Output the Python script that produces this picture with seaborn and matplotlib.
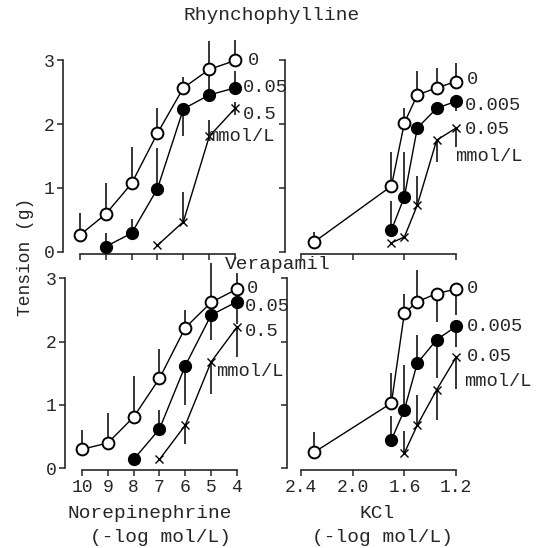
import matplotlib
matplotlib.use("Agg")
import matplotlib.pyplot as plt
import seaborn as sns

# doses (-log mol/L)
ne_dose = [10, 9, 8, 7, 6, 5, 4]
kcl_dose = [2.3, 1.7, 1.6, 1.5, 1.35, 1.2]

# Rhynchophylline, norepinephrine (tension in g, upper / lower error)
rh_ne_0 = [0.26, 0.59, 1.07, 1.86, 2.57, 2.86, 3.00]
rh_ne_0_up = [0.34, 0.48, 0.58, 0.39, 0.17, 0.45, 0.32]
rh_ne_0_lo = [0, 0, 0, 0, 0, 0, 0]
rh_ne_005 = [0.08, 0.29, 0.99, 2.24, 2.46, 2.57]
rh_ne_005_up = [0.21, 0.23, 0.63, 0, 0.34, 0.26]
rh_ne_005_lo = [0, 0, 0, 0.43, 0, 0]
rh_ne_05 = [0.10, 0.47, 1.81, 2.25]
rh_ne_05_up = [0, 0.47, 0.26, 0.10]
rh_ne_05_lo = [0, 0, 0, 0.10]

# Rhynchophylline, KCl
rh_k_0 = [0.15, 1.03, 2.02, 2.46, 2.57, 2.67]
rh_k_0_up = [0.16, 0.54, 0.23, 0.37, 0.31, 0.29]
rh_k_0_lo = [0, 0, 0, 0, 0, 0]
rh_k_0005 = [0.34, 0.86, 1.94, 2.25, 2.36]
rh_k_0005_up = [0.45, 0.71, 0, 0, 0]
rh_k_0005_lo = [0, 0, 0, 0, 0.15]
rh_k_005 = [0.14, 0.23, 0.73, 1.75, 1.94]
rh_k_005_up = [0, 0, 0.45, 0, 0]
rh_k_005_lo = [0, 0, 0, 0.34, 0.29]

# Verapamil, norepinephrine
ve_ne_0 = [0.30, 0.40, 0.81, 1.42, 2.22, 2.62, 2.83]
ve_ne_0_up = [0.30, 0.47, 0.64, 0.47, 0.28, 0.62, 0.25]
ve_ne_0_lo = [0, 0, 0, 0, 0, 0, 0]
ve_ne_005 = [0.14, 0.62, 1.62, 2.42, 2.63]
ve_ne_005_up = [0, 0.30, 0, 0, 0]
ve_ne_005_lo = [0, 0, 0.62, 0.39, 0.35]
ve_ne_05 = [0.14, 0.68, 1.68, 2.23]
ve_ne_05_up = [0, 0, 0, 0]
ve_ne_05_lo = [0, 0.29, 0.50, 0.48]

# Verapamil, KCl
ve_k_0 = [0.25, 1.03, 2.45, 2.63, 2.76, 2.83]
ve_k_0_up = [0.33, 0.47, 0.31, 0.50, 0, 0]
ve_k_0_lo = [0, 0, 0, 0, 0.45, 0.41]
ve_k_0005 = [0.45, 0.92, 1.66, 2.03, 2.24]
ve_k_0005_up = [0.37, 0.71, 0.44, 0, 0]
ve_k_0005_lo = [0, 0, 0, 0.61, 0.32]
ve_k_005 = [0.24, 0.68, 1.24, 1.75]
ve_k_005_up = [0.35, 0.48, 0, 0]
ve_k_005_lo = [0, 0, 0.48, 0.49]

W, H = 545, 548


def px_rect(x0, y0, x1, y1):
    return [x0 / W, 1 - y1 / H, (x1 - x0) / W, (y1 - y0) / H]


def draw(ax, x, y, up, lo, kind):
    if kind == "open":
        mk = dict(marker="o", markersize=8.5, markerfacecolor="white", markeredgewidth=1.4)
    elif kind == "filled":
        mk = dict(marker="o", markersize=8.5, markerfacecolor="black", markeredgewidth=1.0)
    else:
        mk = dict(marker="x", markersize=6, markeredgewidth=1.0)
    ax.errorbar(x, y, yerr=[lo, up], fmt="none", ecolor="black", elinewidth=1.1,
                capsize=0, zorder=2)
    sns.lineplot(x=x, y=y, ax=ax, color="black", lw=1.0, markeredgecolor="black",
                 estimator=None, sort=False, zorder=3, **mk)


def style(ax, xlim, xticks, xlabels, ylabels):
    ax.set_xlim(*xlim)
    ax.set_ylim(-0.03, 3.4)
    ax.set_facecolor("none")
    sns.despine(ax=ax)
    ax.spines["left"].set_bounds(0, 3)
    ax.spines["bottom"].set_bounds(xticks[0], xticks[-1])
    for s in ("left", "bottom"):
        ax.spines[s].set_linewidth(1.2)
    ax.set_xticks(xticks)
    ax.set_yticks([0, 1, 2, 3])
    ax.set_xticklabels(xlabels if xlabels else [])
    ax.set_yticklabels(["0", "1", "2", "3"] if ylabels else [])
    ax.tick_params(direction="out", length=4, width=1.1, labelsize=13, pad=2)
    ax.set_xlabel("")
    ax.set_ylabel("")


sns.set_style("ticks")
plt.rcParams["font.family"] = ["Liberation Mono", "DejaVu Sans Mono"]

fig = plt.figure(figsize=(W / 100, H / 100), dpi=100)

ax_tl = fig.add_axes(px_rect(63, 35, 245, 253.6))
ax_tr = fig.add_axes(px_rect(285, 35, 470, 253.6))
ax_bl = fig.add_axes(px_rect(65, 253, 248, 470.2))
ax_br = fig.add_axes(px_rect(287, 253, 470, 470.2))

# top left
draw(ax_tl, ne_dose, rh_ne_0, rh_ne_0_up, rh_ne_0_lo, "open")
draw(ax_tl, ne_dose[1:], rh_ne_005, rh_ne_005_up, rh_ne_005_lo, "filled")
draw(ax_tl, ne_dose[3:], rh_ne_05, rh_ne_05_up, rh_ne_05_lo, "x")
style(ax_tl, (10.65, 3.62), ne_dose, None, True)

# top right
draw(ax_tr, kcl_dose, rh_k_0, rh_k_0_up, rh_k_0_lo, "open")
draw(ax_tr, kcl_dose[1:], rh_k_0005, rh_k_0005_up, rh_k_0005_lo, "filled")
draw(ax_tr, kcl_dose[1:], rh_k_005, rh_k_005_up, rh_k_005_lo, "x")
style(ax_tr, (2.524, 1.092), [2.4, 2.0, 1.6, 1.2], None, False)

# bottom left
draw(ax_bl, ne_dose, ve_ne_0, ve_ne_0_up, ve_ne_0_lo, "open")
draw(ax_bl, ne_dose[2:], ve_ne_005, ve_ne_005_up, ve_ne_005_lo, "filled")
draw(ax_bl, ne_dose[3:], ve_ne_05, ve_ne_05_up, ve_ne_05_lo, "x")
style(ax_bl, (10.66, 3.57), ne_dose, [str(d) for d in ne_dose], True)

# bottom right
draw(ax_br, kcl_dose, ve_k_0, ve_k_0_up, ve_k_0_lo, "open")
draw(ax_br, kcl_dose[1:], ve_k_0005, ve_k_0005_up, ve_k_0005_lo, "filled")
draw(ax_br, kcl_dose[2:], ve_k_005, ve_k_005_up, ve_k_005_lo, "x")
style(ax_br, (2.508, 1.092), [2.4, 2.0, 1.6, 1.2], ["2.4", "2.0", "1.6", "1.2"], False)

# concentration labels next to the curves
ne_labels = ["0", "0.05", "0.5", "mmol/L"]
kcl_labels = ["0", "0.005", "0.05", "mmol/L"]
label_pos = {
    ax_tl: (ne_labels, [(3.5, 3.0), (3.7, 2.57), (3.7, 2.15), (5.1, 1.81)]),
    ax_tr: (kcl_labels, [(1.115, 2.7), (1.13, 2.3), (1.13, 1.91), (1.21, 1.49)]),
    ax_bl: (ne_labels, [(3.62, 2.84), (3.69, 2.55), (3.69, 2.16), (4.79, 1.53)]),
    ax_br: (kcl_labels, [(1.117, 2.84), (1.117, 2.24), (1.117, 1.76), (1.14, 1.37)]),
}
for ax, (labels, pos) in label_pos.items():
    for lab, (lx, ly) in zip(labels, pos):
        ax.text(lx, ly, lab, ha="left", va="center", fontsize=13.5, clip_on=False)

fig.text(272 / W, 1 - 16 / H, "Rhynchophylline", ha="center", va="center", fontsize=14)
fig.text(278 / W, 1 - 265 / H, "Verapamil", ha="center", va="center", fontsize=14)
fig.text(25 / W, 1 - 257 / H, "Tension (g)", rotation=90, ha="center", va="center", fontsize=13)
fig.text(150 / W, 1 - 513 / H, "Norepinephrine", ha="center", va="center", fontsize=14)
fig.text(160 / W, 1 - 538 / H, "(-log mol/L)", ha="center", va="center", fontsize=14)
fig.text(377 / W, 1 - 513 / H, "KCl", ha="center", va="center", fontsize=14)
fig.text(382 / W, 1 - 538 / H, "(-log mol/L)", ha="center", va="center", fontsize=14)

fig.savefig("out.png", dpi=100, facecolor="white")
